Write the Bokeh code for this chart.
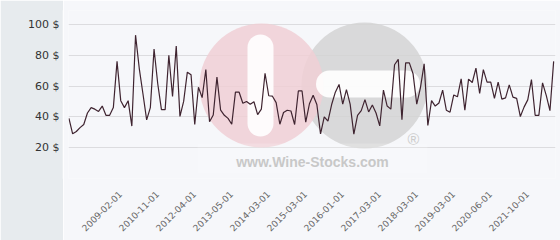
import math
from bokeh.plotting import figure
from bokeh.layouts import row
from bokeh.models import FixedTicker, PrintfTickFormatter, Range1d
from bokeh.embed import file_html
from bokeh.resources import INLINE
from bokeh.core.properties import value

# ---------------- data ----------------
prices = [39, 29, 30.5, 33, 35, 42.5, 46, 45, 43.5, 47,
          41, 41, 46, 76, 50.5, 46, 50.5, 34, 93, 71.5,
          55, 38, 46, 84, 61.5, 44.7, 44.7, 80, 53.2, 86,
          40.3, 50, 69, 67.3, 35, 59.2, 52.5, 70.7, 36.8, 41.2,
          65.8, 44.3, 41, 39, 35.2, 56, 56, 48.8, 50, 48.2,
          49.8, 41.4, 45, 68.3, 53.7, 53.4, 49.2, 35.2, 42.8, 44.3,
          43.8, 35, 56.8, 56.8, 36.6, 48.5, 54, 48, 29, 40,
          37.2, 48, 56, 61, 48.3, 57.7, 48.3, 28.8, 41, 44,
          51.2, 43.2, 47.7, 42.5, 34.1, 57.4, 47, 45, 73.8, 77.3,
          38.2, 75, 75, 68, 48.2, 59, 74.4, 34.4, 50.5, 47,
          49, 57.3, 44.3, 43, 54.2, 53, 64.7, 44.3, 64.5, 62.3,
          71.6, 55.2, 70.6, 62.5, 62.5, 52, 62.5, 51.5, 52.3, 60.7,
          52.8, 52, 40.2, 46.3, 51, 64.2, 41, 41, 62, 53.9,
          44, 76]
tick_labels = ["2009-02-01", "2010-11-01", "2012-04-01", "2013-05-01",
               "2014-03-01", "2015-03-01", "2016-01-01", "2017-03-01",
               "2018-03-01", "2019-03-01", "2020-06-01", "2021-10-01"]
first_labelled = 15
label_step = 10
y_ticks = [20, 40, 60, 80, 100]
y_grid = [0, 20, 40, 60, 80, 100]

n = len(prices)
xs = list(range(n))
label_shift = 1.1   # rotated labels are anchored a little left of the sample
tick_pos = [round(first_labelled + label_step * k - label_shift, 2)
            for k in range(len(tick_labels))]

# ---------------- geometry ----------------
PANEL_W = 63
X0, X1 = -0.12, n - 1 + 0.5
Y0, Y1 = 0, 109
FL, FR, FT, FB = 68, 555, 10, 178   # frame edges in page px

BG = "#f6f7fa"
PANEL = "#e7ebee"

yr = Range1d(Y0, Y1)

# left grey panel holding the y labels
left = figure(width=PANEL_W, height=240, output_backend="svg", toolbar_location=None,
              x_range=Range1d(0, 1), y_range=yr, x_axis_location=None,
              min_border_left=PANEL_W - 1, min_border_right=0,
              min_border_top=FT, min_border_bottom=240 - FB)
left.outline_line_color = None
left.background_fill_color = PANEL
left.border_fill_color = PANEL
left.grid.grid_line_color = None
ya = left.yaxis[0]
ya.ticker = FixedTicker(ticks=y_ticks)
ya.formatter = PrintfTickFormatter(format="%d $")
ya.axis_line_color = None
ya.major_tick_line_color = None
ya.minor_tick_line_color = None
ya.major_tick_out = 0
ya.major_label_text_font = "DejaVu Sans"
ya.major_label_text_font_size = "11px"
ya.major_label_text_color = "#333333"
ya.major_label_standoff = 3

# main chart
p = figure(width=560 - PANEL_W, height=240, output_backend="svg", toolbar_location=None,
           x_range=Range1d(X0, X1), y_range=yr, y_axis_location=None,
           min_border_left=FL - PANEL_W, min_border_right=560 - FR,
           min_border_top=FT, min_border_bottom=240 - FB)
p.outline_line_color = None
p.background_fill_color = BG
p.border_fill_color = BG

xa = p.xaxis[0]
xa.ticker = FixedTicker(ticks=tick_pos)
xa.major_label_overrides = {t: lab for t, lab in zip(tick_pos, tick_labels)}
xa.major_label_orientation = math.pi / 4
xa.axis_line_color = None
xa.major_tick_line_color = None
xa.minor_tick_line_color = None
xa.major_tick_out = 0
xa.major_label_text_font = "DejaVu Sans"
xa.major_label_text_font_size = "9px"
xa.major_label_text_color = "#666666"
xa.major_label_standoff = 14

p.xgrid.grid_line_color = None
p.ygrid.ticker = FixedTicker(ticks=y_grid)
p.ygrid.grid_line_color = "#dcdcdf"
p.ygrid.grid_line_width = 1

# ---------------- watermark (decoration, placed in frame pixels) ----------------
def dx(px):
    return X0 + (px - FL) * (X1 - X0) / (FR - FL)

def dy(py):
    return Y0 + (FB - py) * (Y1 - Y0) / (FB - FT)

p.scatter([dx(364)], [dy(85)], marker="circle", size=126,
          fill_color="#d3d3d3", fill_alpha=0.85, line_color=None)
p.scatter([dx(261)], [dy(85)], marker="circle", size=124,
          fill_color="#f0cfd5", fill_alpha=0.85, line_color=None)
p.line([dx(260), dx(260)], [dy(47), dy(123)], line_width=26,
       line_color="#ffffff", line_alpha=0.9, line_cap="round")
p.line([dx(329), dx(406)], [dy(83.5), dy(83.5)], line_width=27,
       line_color="#ffffff", line_alpha=0.9, line_cap="round")
p.text([dx(413)], [dy(139)], text=["®"], text_font=value("Liberation Sans"),
       text_font_size="16px", text_color="#cccccc", text_align="center",
       text_baseline="middle")
p.quad(left=[dx(197)], right=[dx(427)], top=[dy(143)], bottom=[dy(173)],
       fill_color="#ffffff", fill_alpha=0.18, line_color=None)
p.text([dx(312)], [dy(161)], text=["www.Wine-Stocks.com"],
       text_font=value("Liberation Sans"), text_font_style="bold",
       text_font_size="14px", text_color="#c8c8c8", text_align="center",
       text_baseline="middle")

# ---------------- price line ----------------
p.line(xs, prices, line_color="#3f2430", line_width=1.2)

layout = row(left, p, spacing=0)
open("out.html", "w").write(file_html(layout, INLINE))
